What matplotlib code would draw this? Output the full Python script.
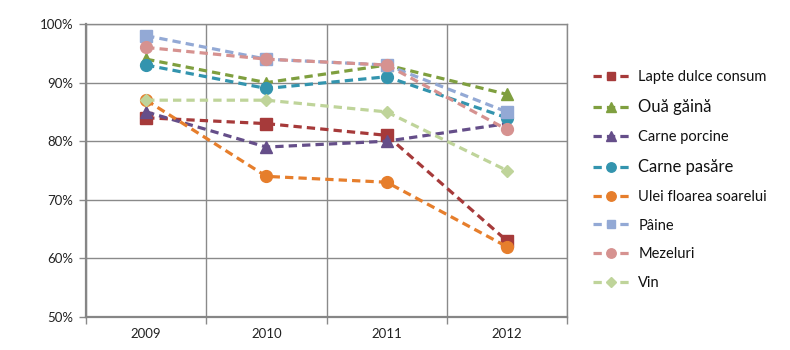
#!/usr/bin/env python3
"""
Line chart: share of households consuming selected food products, 2009-2012
"""
import matplotlib
matplotlib.use('Agg')
import matplotlib.pyplot as plt
from matplotlib.ticker import FixedLocator, PercentFormatter

plt.rcParams['font.family'] = ['Lato', 'DejaVu Sans']

# Data (percent)
years = ['2009', '2010', '2011', '2012']
series_names = ['Lapte dulce consum', 'Ouă găină', 'Carne porcine', 'Carne pasăre',
                'Ulei floarea soarelui', 'Pâine', 'Mezeluri', 'Vin']
lapte = [84, 83, 81, 63]
oua = [94, 90, 93, 88]
carne_porcine = [85, 79, 80, 83]
carne_pasare = [93, 89, 91, 84]
ulei = [87, 74, 73, 62]
paine = [98, 94, 93, 85]
mezeluri = [96, 94, 93, 82]
vin = [87, 87, 85, 75]

series_values = [lapte, oua, carne_porcine, carne_pasare, ulei, paine, mezeluri, vin]
colors = ['#A63A3A', '#7F9F3F', '#654E89', '#3394AE', '#E67E2C', '#93A9D5', '#D69290', '#BFD49A']
markers = ['s', '^', '^', 'o', 'o', 's', 'o', 'D']
msizes = [8, 8.5, 8.5, 8.5, 8.5, 8, 8.5, 6.5]

fig = plt.figure(figsize=(7.9, 3.5), dpi=100)
ax = fig.add_axes([0.1089, 0.0943, 0.6089, 0.8371])

x = list(range(len(years)))
lines = []
for vals, name, col, mk, ms in zip(series_values, series_names, colors, markers, msizes):
    ln, = ax.plot(x, vals, color=col, linestyle=(0, (2.6, 1.6)), linewidth=2.3,
                  marker=mk, markersize=ms, markerfacecolor=col, markeredgecolor=col,
                  label=name, zorder=3)
    lines.append(ln)

ax.set_xlim(-0.5, len(years) - 0.5)
ax.set_ylim(50, 100)
ax.yaxis.set_major_locator(FixedLocator([50, 60, 70, 80, 90, 100]))
ax.yaxis.set_major_formatter(PercentFormatter(decimals=0))
ax.set_xticks(x)
ax.set_xticklabels(years)
ax.set_xticks([i - 0.5 for i in range(len(years) + 1)], minor=True)

ax.grid(axis='y', which='major', color='#8a8a8a', linewidth=1.0)
ax.grid(axis='x', which='minor', color='#8a8a8a', linewidth=1.0)
ax.set_axisbelow(True)

ax.tick_params(axis='x', which='major', length=0, pad=8, labelsize=9.5, labelcolor='#222222')
ax.tick_params(axis='x', which='minor', length=5, width=1, color='#8a8a8a', direction='out')
ax.tick_params(axis='y', which='major', length=5, width=1, color='#8a8a8a', direction='out',
               pad=4, labelsize=9.5, labelcolor='#222222')

for side in ['left', 'bottom']:
    ax.spines[side].set_color('#868686')
    ax.spines[side].set_linewidth(1.6)
for side in ['top', 'right']:
    ax.spines[side].set_color('#8a8a8a')
    ax.spines[side].set_linewidth(1.0)

leg = fig.legend(handles=lines, loc='upper left', bbox_to_anchor=(0.750, 0.7994),
                 frameon=False, fontsize=10.5, labelspacing=1.02, handlelength=2.6,
                 handletextpad=0.55, borderaxespad=0, borderpad=0, markerscale=0.8)
for txt in leg.get_texts():
    txt.set_color('#111111')
    if txt.get_text() in ('Ouă găină', 'Carne pasăre'):
        txt.set_fontsize(12)

fig.savefig('out.png', dpi=100)
plt.close(fig)
